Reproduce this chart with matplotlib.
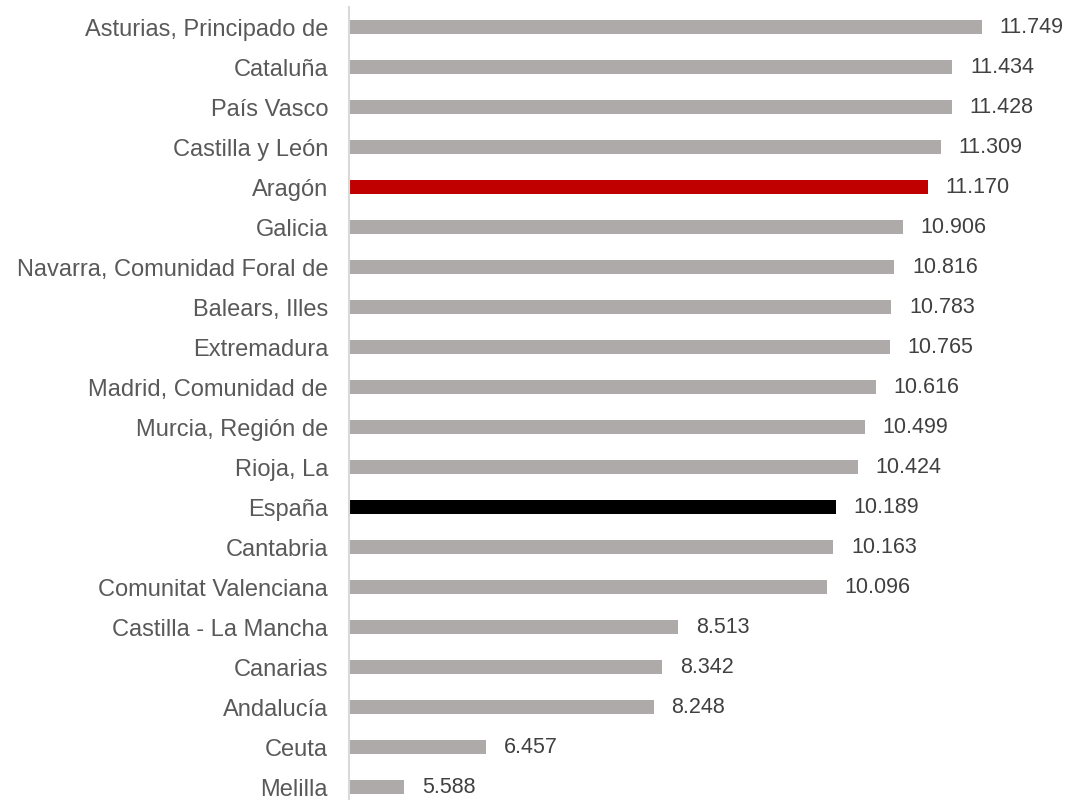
import matplotlib
matplotlib.use('Agg')
import matplotlib.pyplot as plt

plt.rcParams['font.family'] = ['Liberation Sans', 'DejaVu Sans']

regions = ['Asturias, Principado de', 'Cataluña', 'País Vasco', 'Castilla y León',
           'Aragón', 'Galicia', 'Navarra, Comunidad Foral de', 'Balears, Illes',
           'Extremadura', 'Madrid, Comunidad de', 'Murcia, Región de', 'Rioja, La',
           'España', 'Cantabria', 'Comunitat Valenciana', 'Castilla - La Mancha',
           'Canarias', 'Andalucía', 'Ceuta', 'Melilla']
values = [11.749, 11.434, 11.428, 11.309, 11.170, 10.906, 10.816, 10.783,
          10.765, 10.616, 10.499, 10.424, 10.189, 10.163, 10.096, 8.513,
          8.342, 8.248, 6.457, 5.588]
labels = ['11.749', '11.434', '11.428', '11.309', '11.170', '10.906', '10.816', '10.783',
          '10.765', '10.616', '10.499', '10.424', '10.189', '10.163', '10.096', '8.513',
          '8.342', '8.248', '6.457', '5.588']

colors = []
for r in regions:
    if r == 'Aragón':
        colors.append('#c00000')
    elif r == 'España':
        colors.append('#000000')
    else:
        colors.append('#aeaaaa')

fig = plt.figure(figsize=(10.67, 8), dpi=100)
ax = fig.add_axes([0.327, 0.0, 0.673, 0.991])

ypos = list(range(len(regions)))
ax.barh(ypos, values, height=0.35, color=colors, left=0)
ax.set_xlim(5, 12.655)
ax.set_ylim(19.325, -0.5)

for y, v, t in zip(ypos, values, labels):
    ax.text(v + 0.19, y, t, va='center', ha='left', fontsize=15.5, color='#404040')

ax.set_yticks(ypos)
ax.set_yticklabels(regions, fontsize=17, color='#595959')
ax.tick_params(axis='y', length=0, pad=15)
ax.set_xticks([])

for s in ['top', 'right', 'bottom']:
    ax.spines[s].set_visible(False)
ax.spines['left'].set_color('#d9d9d9')
ax.spines['left'].set_linewidth(1.5)

plt.savefig('out.png', dpi=100)
